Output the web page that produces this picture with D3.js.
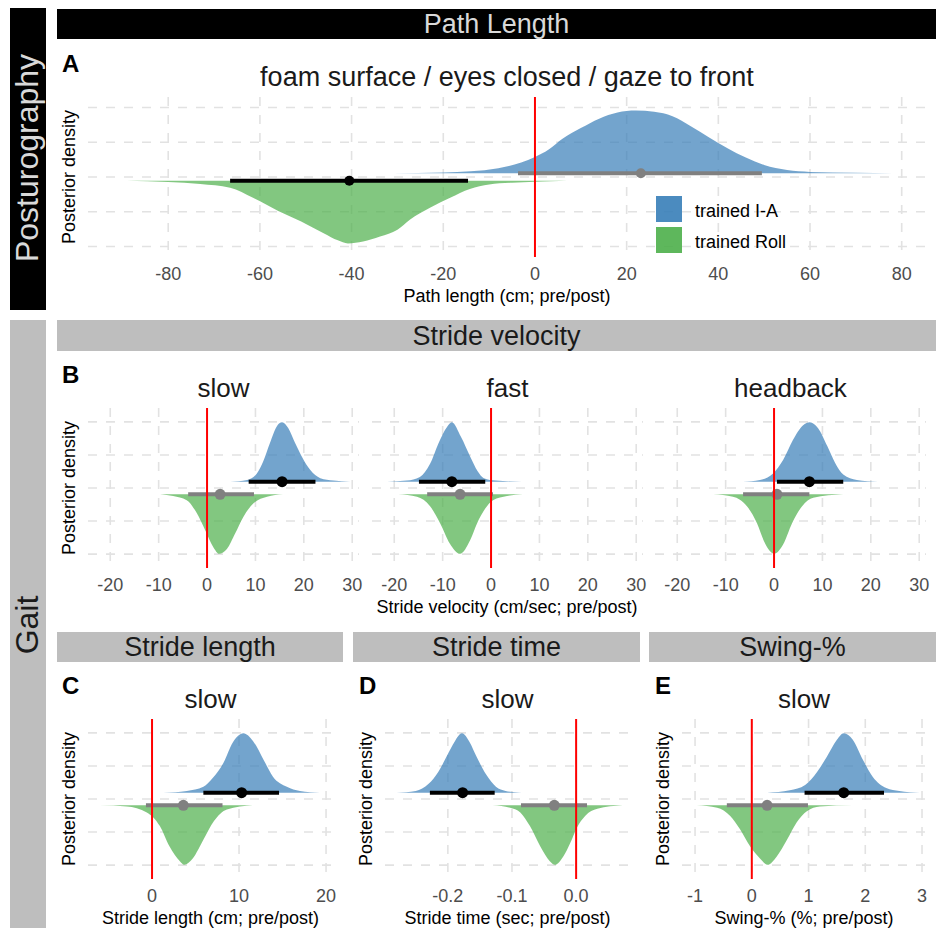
<!DOCTYPE html>
<html>
<head>
<meta charset="utf-8">
<script src="https://cdn.jsdelivr.net/npm/d3@7"></script>
<style>
  body { margin: 0; background: #fff; }
  text { font-family: "Liberation Sans", Arial, Helvetica, sans-serif; }
</style>
</head>
<body>
<div id="chart"></div>
<script>
// ---- data ----
const groups = ["trained I-A", "trained Roll"];
const groupColors = ["#377eb8", "#4daf4a"];

const pathTicks = [-80, -60, -40, -20, 0, 20, 40, 60, 80];
const velTicks = [-20, -10, 0, 10, 20, 30];
const lenTicks = [0, 10, 20];
const timeTicks = [-0.2, -0.1, 0.0];
const swingTicks = [-1, 0, 1, 2, 3];

// density outlines: [value, relative height]
const densPath_IA = [[-31,0],[-20,0.01],[-14,0.03],[-8,0.08],[-3,0.17],[0,0.26],[3,0.38],[6,0.55],[10,0.72],[14,0.87],[18,0.97],[22,1],[26,0.98],[30,0.91],[34,0.75],[38,0.57],[42,0.4],[46,0.25],[50,0.13],[55,0.05],[60,0.02],[70,0.005],[78,0]];
const densPath_Roll = [[-89,0],[-80,0.02],[-73,0.05],[-66.5,0.11],[-61.5,0.27],[-56,0.48],[-51,0.65],[-46,0.84],[-43,0.95],[-40.8,1],[-37.5,0.97],[-33.8,0.89],[-30,0.78],[-27.3,0.62],[-22.9,0.43],[-18.5,0.27],[-14.2,0.13],[-10,0.06],[-5,0.03],[0,0.015],[7,0]];

const densSlow_IA = [[4.8,0],[8.3,0.03],[10.3,0.14],[11.6,0.34],[13,0.65],[14.4,0.93],[15.5,1],[16.8,0.9],[18.2,0.65],[19.6,0.42],[21.3,0.2],[23.4,0.06],[26.1,0.02],[29.6,0]];
const densSlow_Roll = [[-9.7,0],[-7,0.03],[-4.2,0.1],[-2.1,0.32],[-0.4,0.6],[1.3,0.89],[2.5,1],[4.1,0.92],[5.8,0.66],[7.5,0.38],[9.6,0.15],[12.4,0.04],[15.7,0]];
const densFast_IA = [[-21.5,0],[-17.4,0.02],[-14.7,0.08],[-12.6,0.3],[-10.9,0.64],[-9.1,0.92],[-8.1,1],[-6.2,0.75],[-4.3,0.42],[-2.8,0.18],[-1.5,0.06],[1,0.02],[6.4,0]];
const densFast_Roll = [[-19.2,0],[-15.3,0.04],[-12.6,0.2],[-10.5,0.49],[-8.5,0.83],[-6.4,1],[-4.3,0.77],[-2.9,0.49],[-1.2,0.24],[0.4,0.1],[3.3,0.03],[6.6,0]];
const densHead_IA = [[-6.4,0],[-2.9,0.03],[-0.2,0.14],[1.9,0.37],[3.9,0.7],[6,0.95],[7.4,1],[9.1,0.9],[11,0.6],[12.6,0.32],[14.3,0.12],[17.1,0.03],[21.5,0]];
const densHead_Roll = [[-12.6,0],[-8.5,0.04],[-5.6,0.2],[-3.5,0.49],[-1.9,0.82],[0,1],[1.9,0.84],[3.7,0.49],[5.8,0.2],[8.1,0.06],[14.3,0]];

const densLen_IA = [[1.3,0],[4,0.03],[5.9,0.1],[7,0.25],[8.2,0.5],[9.3,0.85],[10.5,1],[11.6,0.87],[12.8,0.56],[13.9,0.27],[15.5,0.1],[17,0.03],[19.3,0]];
const densLen_Roll = [[-6,0],[-2.9,0.02],[-0.6,0.12],[0.9,0.35],[2,0.69],[3.2,0.94],[3.7,1],[4.7,0.89],[5.9,0.58],[7.1,0.27],[8.6,0.07],[11.6,0]];
const densTime_IA = [[-0.28,0],[-0.25,0.03],[-0.23,0.15],[-0.215,0.35],[-0.2,0.65],[-0.19,0.85],[-0.178,1],[-0.166,0.85],[-0.155,0.6],[-0.14,0.3],[-0.125,0.1],[-0.11,0.03],[-0.085,0]];
const densTime_Roll = [[-0.13,0],[-0.103,0.04],[-0.087,0.12],[-0.072,0.35],[-0.056,0.69],[-0.041,0.94],[-0.033,1],[-0.02,0.86],[-0.009,0.63],[0.001,0.38],[0.014,0.18],[0.033,0.06],[0.073,0]];
const densSwing_IA = [[0.27,0],[0.67,0.04],[0.94,0.13],[1.15,0.35],[1.32,0.6],[1.5,0.89],[1.62,1],[1.78,0.89],[1.96,0.55],[2.13,0.27],[2.37,0.08],[2.6,0.03],[2.96,0]];
const densSwing_Roll = [[-0.97,0],[-0.61,0.04],[-0.38,0.18],[-0.21,0.4],[-0.03,0.69],[0.14,0.89],[0.28,1],[0.44,0.86],[0.62,0.58],[0.79,0.29],[0.97,0.1],[1.2,0.02],[1.78,0]];

// intervals: [lower, point, upper]
const intPath_IA = [-3.7, 23.1, 49.5];
const intPath_Roll = [-66.5, -40.5, -14.6];
const intSlow_IA = [8.6, 15.5, 22.4];
const intSlow_Roll = [-3.9, 2.7, 9.7];
const intFast_IA = [-14.9, -8.1, -1.2];
const intFast_Roll = [-13.2, -6.4, 0.4];
const intHead_IA = [0.6, 7.3, 14.3];
const intHead_Roll = [-6.4, 0.6, 7.3];
const intLen_IA = [5.9, 10.3, 14.6];
const intLen_Roll = [-0.7, 3.6, 8.1];
const intTime_IA = [-0.228, -0.177, -0.127];
const intTime_Roll = [-0.086, -0.034, 0.017];
const intSwing_IA = [0.93, 1.62, 2.33];
const intSwing_Roll = [-0.44, 0.27, 0.99];

// ---- layout ----
const W = 942, H = 944;
const svg = d3.select("#chart").append("svg").attr("width", W).attr("height", H);

// plain hyphen minus like the original
const intFmt = d => String(d);
const decFmt = d => d.toFixed(1);

const panels = [
  { letter: "A", letterX: 62, ylabX: 75, left: 88, right: 926, top: 97, bottom: 257, dom: [-97.5, 85.3], ext: 1.15, off: 0.055,
    ticks: pathTicks, fmt: intFmt, title: "foam surface / eyes closed / gaze to front", titleSize: 27,
    xlab: "Path length (cm; pre/post)", dens: [densPath_IA, densPath_Roll], ints: [intPath_IA, intPath_Roll], r: 5 },
  { letter: "B", letterX: 62, ylabX: 75, left: 88, right: 359, top: 408, bottom: 568, dom: [-24.6, 31.4], ext: 1.21, off: 0.095,
    ticks: velTicks, fmt: intFmt, title: "slow", dens: [densSlow_IA, densSlow_Roll], ints: [intSlow_IA, intSlow_Roll] },
  { left: 372, right: 643, top: 408, bottom: 568, dom: [-24.6, 31.4], ext: 1.21, off: 0.095,
    ticks: velTicks, fmt: intFmt, title: "fast", dens: [densFast_IA, densFast_Roll], ints: [intFast_IA, intFast_Roll] },
  { left: 655, right: 926, top: 408, bottom: 568, dom: [-24.6, 31.4], ext: 1.21, off: 0.095,
    ticks: velTicks, fmt: intFmt, title: "headback", dens: [densHead_IA, densHead_Roll], ints: [intHead_IA, intHead_Roll] },
  { letter: "C", letterX: 62, ylabX: 75, left: 88, right: 333, top: 719, bottom: 879, dom: [-7.36, 20.8], ext: 1.21, off: 0.095,
    ticks: lenTicks, fmt: intFmt, title: "slow", xlab: "Stride length (cm; pre/post)",
    dens: [densLen_IA, densLen_Roll], ints: [intLen_IA, intLen_Roll] },
  { letter: "D", letterX: 359, ylabX: 372, left: 385, right: 630, top: 719, bottom: 879, dom: [-0.298, 0.084], ext: 1.21, off: 0.095,
    ticks: timeTicks, fmt: decFmt, title: "slow", xlab: "Stride time (sec; pre/post)",
    dens: [densTime_IA, densTime_Roll], ints: [intTime_IA, intTime_Roll] },
  { letter: "E", letterX: 655, ylabX: 669, left: 682, right: 926, top: 719, bottom: 879, dom: [-1.23, 3.07], ext: 1.21, off: 0.095,
    ticks: swingTicks, fmt: intFmt, title: "slow", xlab: "Swing-% (%; pre/post)",
    dens: [densSwing_IA, densSwing_Roll], ints: [intSwing_IA, intSwing_Roll] }
];

// ---- side strips ----
svg.append("rect").attr("x", 10).attr("y", 8).attr("width", 36).attr("height", 302).attr("fill", "#000");
svg.append("text").attr("transform", "translate(38,158) rotate(-90)").attr("text-anchor", "middle")
  .attr("font-size", 32).attr("fill", "#d9d9d9").text("Posturography");
svg.append("rect").attr("x", 10).attr("y", 320).attr("width", 36).attr("height", 608).attr("fill", "#bebebe");
svg.append("text").attr("transform", "translate(38,625) rotate(-90)").attr("text-anchor", "middle")
  .attr("font-size", 32).attr("fill", "#1a1a1a").text("Gait");

// ---- top strips ----
const strips = [
  { x0: 57, x1: 936, y0: 9, y1: 39, label: "Path Length", bg: "#000", fg: "#d9d9d9" },
  { x0: 57, x1: 936, y0: 320, y1: 351, label: "Stride velocity", bg: "#bebebe", fg: "#1a1a1a" },
  { x0: 57, x1: 343, y0: 632, y1: 662, label: "Stride length", bg: "#bebebe", fg: "#1a1a1a" },
  { x0: 353, x1: 640, y0: 632, y1: 662, label: "Stride time", bg: "#bebebe", fg: "#1a1a1a" },
  { x0: 649, x1: 936, y0: 632, y1: 662, label: "Swing-%", bg: "#bebebe", fg: "#1a1a1a" }
];
strips.forEach(s => {
  svg.append("rect").attr("x", s.x0).attr("y", s.y0).attr("width", s.x1 - s.x0).attr("height", s.y1 - s.y0).attr("fill", s.bg);
  svg.append("text").attr("x", (s.x0 + s.x1) / 2).attr("y", s.y1 - 6).attr("text-anchor", "middle")
    .attr("font-size", 27).attr("fill", s.fg).text(s.label);
});

// ---- panels ----
panels.forEach(p => {
  const x = d3.scaleLinear().domain(p.dom).range([p.left, p.right]);
  const y = d3.scaleLinear().domain([-p.ext, p.ext]).range([p.bottom, p.top]);
  const g = svg.append("g");

  // grid
  g.selectAll(".hgrid").data([-1, -0.5, 0, 0.5, 1]).enter().append("line")
    .attr("x1", p.left).attr("x2", p.right).attr("y1", d => y(d)).attr("y2", d => y(d))
    .attr("stroke", "#e2e2e2").attr("stroke-width", 1.6).attr("stroke-dasharray", "9,9");
  g.selectAll(".vgrid").data(p.ticks).enter().append("line")
    .attr("x1", d => x(d)).attr("x2", d => x(d)).attr("y1", p.top).attr("y2", p.bottom)
    .attr("stroke", "#e2e2e2").attr("stroke-width", 1.6).attr("stroke-dasharray", "9,9");

  // tick labels
  g.selectAll(".tick").data(p.ticks).enter().append("text")
    .attr("x", d => x(d)).attr("y", p.bottom + 23).attr("text-anchor", "middle")
    .attr("font-size", 18).attr("fill", "#4d4d4d").text(d => p.fmt(d));

  // densities
  p.dens.forEach((dd, i) => {
    const sign = i === 0 ? 1 : -1;
    const base = sign * p.off;
    const area = d3.area().curve(d3.curveMonotoneX)
      .x(d => x(d[0])).y0(y(base)).y1(d => y(base + sign * 0.9 * d[1]));
    g.append("path").datum(dd).attr("d", area).attr("fill", groupColors[i]).attr("fill-opacity", 0.7);
  });

  // intervals
  p.ints.forEach((iv, i) => {
    const base = (i === 0 ? 1 : -1) * p.off;
    const col = (iv[0] > 0 || iv[2] < 0) ? "#000" : "#808080";
    g.append("line").attr("x1", x(iv[0])).attr("x2", x(iv[2])).attr("y1", y(base)).attr("y2", y(base))
      .attr("stroke", col).attr("stroke-width", 4);
    g.append("circle").attr("cx", x(iv[1])).attr("cy", y(base)).attr("r", p.r || 5.5).attr("fill", col);
  });

  // zero line
  g.append("line").attr("x1", x(0)).attr("x2", x(0)).attr("y1", p.top).attr("y2", p.bottom)
    .attr("stroke", "#ff0000").attr("stroke-width", 2);

  // titles
  g.append("text").attr("x", (p.left + p.right) / 2).attr("y", p.top - 11).attr("text-anchor", "middle")
    .attr("font-size", p.titleSize || 26).attr("fill", "#1a1a1a").text(p.title);
  if (p.letter) {
    g.append("text").attr("x", p.letterX).attr("y", p.top - 25).attr("font-size", 24).attr("font-weight", "bold")
      .attr("fill", "#000").text(p.letter);
    g.append("text").attr("transform", `translate(${p.ylabX},${(p.top + p.bottom) / 2}) rotate(-90)`)
      .attr("text-anchor", "middle").attr("font-size", 18).attr("fill", "#000").text("Posterior density");
  }
  if (p.xlab) {
    g.append("text").attr("x", (p.left + p.right) / 2).attr("y", p.bottom + 45).attr("text-anchor", "middle")
      .attr("font-size", 18).attr("fill", "#000").text(p.xlab);
  }
});

// shared x title for the velocity row
svg.append("text").attr("x", 507).attr("y", 568 + 45).attr("text-anchor", "middle")
  .attr("font-size", 18).attr("fill", "#000").text("Stride velocity (cm/sec; pre/post)");

// ---- legend ----
const legend = svg.append("g").attr("transform", "translate(656,196)");
groups.forEach((gname, i) => {
  legend.append("rect").attr("x", 0).attr("y", i * 31).attr("width", 26).attr("height", 26)
    .attr("fill", groupColors[i]).attr("fill-opacity", 0.9);
  legend.append("text").attr("x", 39).attr("y", i * 31 + 21).attr("font-size", 18).attr("fill", "#000").text(gname);
});
</script>
</body>
</html>
